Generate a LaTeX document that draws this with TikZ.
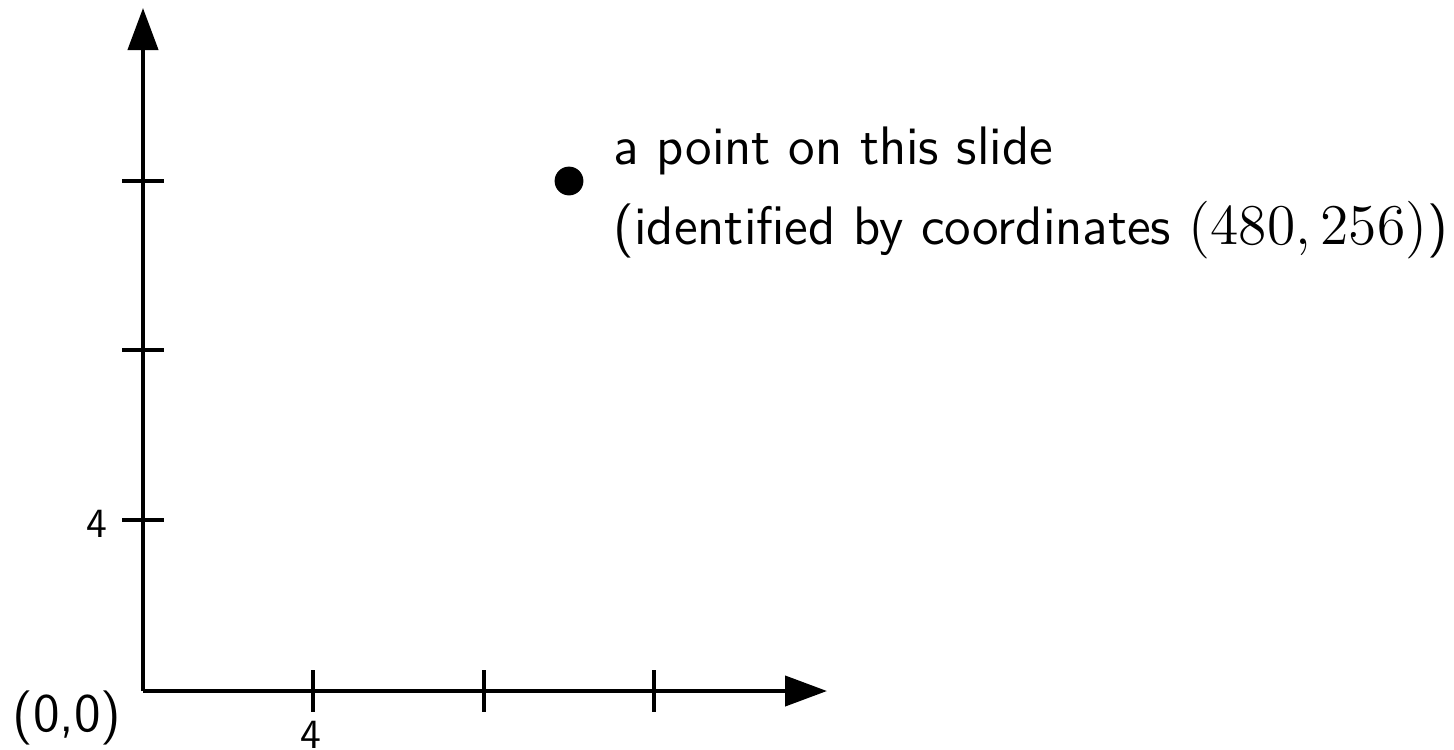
\documentclass[tikz,border=0pt]{standalone}
\usetikzlibrary{arrows.meta}
\begin{document}
\begin{tikzpicture}[x=0.25pt,y=-0.25pt,
  axis/.style={line width=1.05pt,-{Triangle[length=10.5pt,width=7.5pt]}},
  tick/.style={line width=1.05pt},
  bigtext/.style={font=\fontsize{13.55}{16}\selectfont\sffamily,inner sep=0pt},
  smalltext/.style={font=\fontsize{10.4}{12}\selectfont\sffamily,inner sep=0pt}]
\useasboundingbox (0,0) rectangle (1454,749);
\coordinate (O) at (143,691);
\coordinate (xend) at (827,691);
\coordinate (yend) at (143,8);
\draw[axis] (O) -- (xend);
\draw[axis] (O) -- (yend);
\foreach \x/\n in {313/xa,484/xb,654/xc}{
  \coordinate (\n t) at (\x,670);
  \coordinate (\n b) at (\x,712);
  \draw[tick] (\n t) -- (\n b);
}
\foreach \y/\n in {520/ya,350/yb,181/yc}{
  \coordinate (\n l) at (122,\y);
  \coordinate (\n r) at (164,\y);
  \draw[tick] (\n l) -- (\n r);
}
\node[smalltext,anchor=east] (ylab) at (108,524) {4};
\node[smalltext,anchor=north] (xlab) at (311,720) {4};
\node[bigtext] (origin) at (67,718) {(0,0)};
\fill (569,181) circle (3.6pt);
\node[bigtext,anchor=base west] (l1) at (613,164) {a point on this slide};
\node[bigtext,anchor=base west] (l2) at (613,244) {(identified by coordinates $(480,256)$)};
\end{tikzpicture}
\end{document}
